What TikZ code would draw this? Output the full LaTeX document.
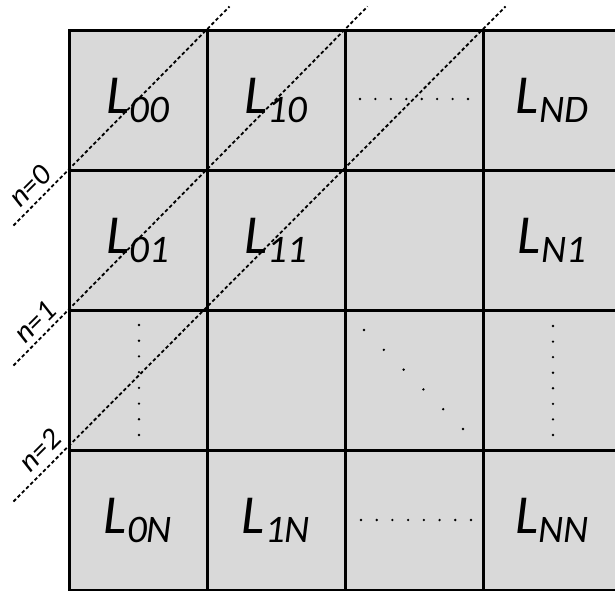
\documentclass[tikz,border=0pt]{standalone}
\usepackage{fontspec}
\setmainfont{Carlito}
\usetikzlibrary{calc}
\definecolor{cellgray}{HTML}{D9D9D9}
\newcommand\mylab[1]{{\fontsize{55}{55}\selectfont\itshape L}\raisebox{-9pt}{\fontsize{39}{39}\selectfont\itshape #1}}
\tikzset{
  cell/.style={draw=black, fill=cellgray, line width=3pt, minimum width=138pt, minimum height=140pt, inner sep=0pt, anchor=center},
  diag/.style={draw=black, line width=1.8pt, dash pattern=on 3.5pt off 2.5pt},
  nlab/.style={rotate=45, font=\fontsize{30}{30}\selectfont\itshape, inner sep=0pt},
  dotfill/.style={fill=black}
}
\begin{document}
\begin{tikzpicture}[x=1pt,y=-1pt]
\useasboundingbox (0,0) rectangle (615,590);
\clip (0,0) rectangle (615,590);
% cells
\node[cell] (c00) at (138,100) {\mylab{00}};
\node[cell] (c10) at (276,100) {\mylab{10}};
\node[cell] (c20) at (414,100) {};
\node[cell] (c30) at (552,100) {\mylab{ND}};
\node[cell] (c01) at (138,240) {\mylab{01}};
\node[cell] (c11) at (276,240) {\mylab{11}};
\node[cell] (c21) at (414,240) {};
\node[cell] (c31) at (552,240) {\mylab{N1}};
\node[cell] (c02) at (138,380) {};
\node[cell] (c12) at (276,380) {};
\node[cell] (c22) at (414,380) {};
\node[cell] (c32) at (552,380) {};
\node[cell] (c03) at (138,520) {\mylab{0N}};
\node[cell] (c13) at (276,520) {\mylab{1N}};
\node[cell] (c23) at (414,520) {};
\node[cell] (c33) at (552,520) {\mylab{NN}};
% dotted ellipses
\foreach \i in {0,...,7} {
  \fill[dotfill] ($(c20.center)+(-54+\i*15.43,-1)$) circle (1.3pt);
  \fill[dotfill] ($(c23.center)+(-53+\i*15.71,0)$) circle (1.3pt);
  \fill[dotfill] ($(c02.center)+(1,-55+\i*15.71)$) circle (1.3pt);
  \fill[dotfill] ($(c32.center)+(1,-54+\i*15.57)$) circle (1.3pt);
}
\foreach \i in {0,...,5} {
  \fill[dotfill] ($(c22.center)+(-50+\i*19.8,-50+\i*19.8)$) circle (1.3pt);
}
% diagonals
\draw[diag] ($(c00.south west)+(-54,54)$) -- ($(c00.north east)+(21,-22)$);
\draw[diag] ($(c01.south west)+(-54,54)$) -- ($(c10.north east)+(21,-22)$);
\draw[diag] ($(c02.south west)+(-54,50)$) -- ($(c20.north east)+(21,-22)$);
% labels
\node[nlab] (n0) at (30,186) {n=0};
\node[nlab] (n1) at (35,322) {n=1};
\node[nlab] (n2) at (40,450) {n=2};
\end{tikzpicture}
\end{document}
